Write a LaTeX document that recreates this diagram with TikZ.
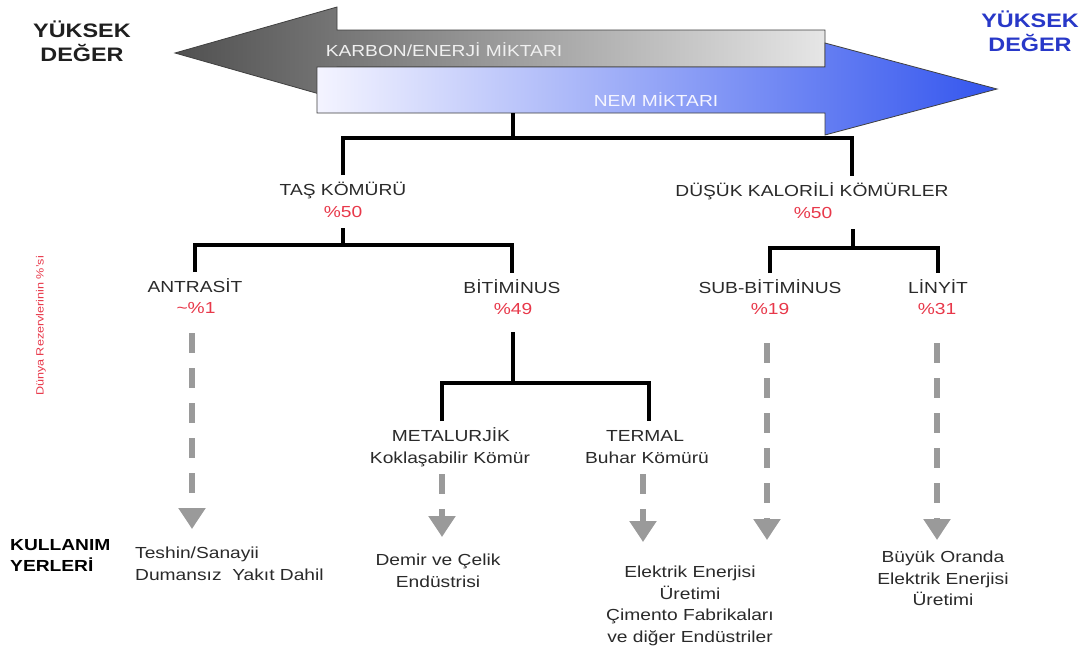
\documentclass[tikz,border=0pt]{standalone}
\usepackage{fontspec}
\setmainfont{Liberation Sans}[FakeStretch=1.2]
\usetikzlibrary{arrows.meta}
\definecolor{pctred}{HTML}{E8384A}
\definecolor{hiblue}{HTML}{2838C8}
\definecolor{dashgray}{HTML}{9A9A9A}
\definecolor{txtgray}{HTML}{2A2A2A}
\definecolor{edgegray}{HTML}{404040}
\definecolor{blueend}{HTML}{3355EE}
\definecolor{bluestart}{HTML}{F4F4FF}
\definecolor{graystart}{HTML}{505050}
\definecolor{grayend}{HTML}{E6E6E6}
\begin{document}
\begin{tikzpicture}[x=1pt,y=-1pt,
  lbl/.style={font=\fontsize{16}{21.5}\selectfont, text=txtgray, inner sep=0pt,
    text height=12pt, text depth=3pt, outer ysep=8pt, anchor=base},
  pct/.style={lbl, text=pctred},
  note/.style={font=\fontsize{16}{21.5}\selectfont, text=txtgray, inner sep=0pt,
    align=center, anchor=north},
  bigword/.style={font=\bfseries\fontsize{19.5}{24}\selectfont, inner sep=0pt,
    align=center, anchor=north},
  treeline/.style={line width=4.5pt, draw=black, line join=miter},
  usearrow/.style={line width=6pt, draw=dashgray, dash pattern=on 20pt off 15pt,
    -{Triangle[width=26pt,length=21pt,fill=dashgray]}},
  bandtext/.style={font=\fontsize{16}{20}\selectfont, inner sep=0pt}
]
\useasboundingbox (0,0) rectangle (1090,648);
\fill[white] (0,0) rectangle (1090,648);

% big arrows
\draw[edgegray, line width=0.8pt, left color=graystart, right color=grayend]
  (175,53) -- (337,7) -- (337,30) -- (825,30) -- (825,67) -- (337,67) -- (337,99) -- cycle;
\node[bandtext, text=white!94!black] (karbon) at (444,50) {KARBON/ENERJİ MİKTARI};
\draw[edgegray, line width=0.8pt, left color=bluestart, right color=blueend]
  (317,67) -- (825,67) -- (825,43) -- (997,89) -- (825,135) -- (825,113) -- (317,113) -- cycle;
\node[bandtext, text=white!96!blue] (nem) at (656,100) {NEM MİKTARI};

\node[bigword, text=black!88] (hvL) at (82,20.5) {YÜKSEK\\DEĞER};
\node[bigword, text=hiblue] (hvR) at (1030,10.5) {YÜKSEK\\DEĞER};

% labels
\node[lbl] (tas) at (343,195) {TAŞ KÖMÜRÜ};
\node[pct] (tasp) at (343,217) {\%50};
\node[lbl] (dus) at (812,196) {DÜŞÜK KALORİLİ KÖMÜRLER};
\node[pct] (dusp) at (813,218) {\%50};
\node[lbl] (ant) at (195,292) {ANTRASİT};
\node[pct] (antp) at (196,313) {\textasciitilde\%1};
\node[lbl] (bit) at (512,293) {BİTİMİNUS};
\node[pct] (bitp) at (513,314) {\%49};
\node[lbl] (sub) at (770,293) {SUB-BİTİMİNUS};
\node[pct] (subp) at (770,314) {\%19};
\node[lbl] (lin) at (938,293) {LİNYİT};
\node[pct] (linp) at (937,314) {\%31};
\node[lbl] (met) at (451,441) {METALURJİK};
\node[lbl] (metk) at (450,463) {Koklaşabilir Kömür};
\node[lbl] (ter) at (645,441) {TERMAL};
\node[lbl] (terk) at (647,463) {Buhar Kömürü};

\node[rotate=90, font=\fontsize{10.5}{12}\selectfont, text=pctred, inner sep=0pt] (dunya) at (41,326) {Dünya Rezervlerinin \%'si};

% tree connectors
\coordinate (root) at (513,113);
\draw[treeline] (root) -- ++(0,25) coordinate (j1);
\draw[treeline] (tas.north) |- (j1) -| ([xshift=40pt]dus.north);
\coordinate (j2) at (343,245);
\draw[treeline] (tasp.south) -- (j2);
\draw[treeline] (ant.north) |- (j2) -| (bit.north);
\coordinate (j3) at (853,248);
\draw[treeline] ([xshift=40pt]dusp.south) -- (j3);
\draw[treeline] (sub.north) |- (j3) -| (lin.north);
\coordinate (j4) at (513,383);
\draw[treeline, shorten <=7pt] (bitp.south) -- (j4);
\draw[treeline] ([xshift=-9pt]met.north) |- (j4) -| ([xshift=4pt]ter.north);

% usage arrows
\coordinate (antu) at (192,529);
\coordinate (metu) at (442,537);
\coordinate (teru) at (643,542);
\coordinate (subu) at (767,540);
\coordinate (linu) at (937,540);
\draw[usearrow, shorten <=9pt] (antu |- antp.south) -- (antu);
\draw[usearrow] (metu |- metk.south) -- (metu);
\draw[usearrow] (teru |- terk.south) -- (teru);
\draw[usearrow, shorten <=18pt] (subu |- subp.south) -- (subu);
\draw[usearrow, shorten <=18pt] (linu |- linp.south) -- (linu);

% usage texts
\node[note, align=left, anchor=north west, font=\bfseries\fontsize{16}{21}\selectfont, text=black] (kul) at (10,539) {KULLANIM\\YERLERİ};
\node[note, align=left, anchor=north west] (u1) at (135,547) {Teshin/Sanayii\\Dumansız\ \ Yakıt Dahil};
\node[note] (u2) at (438,554) {Demir ve Çelik\\Endüstrisi};
\node[note] (u3) at (690,566) {Elektrik Enerjisi\\Üretimi\\Çimento Fabrikaları\\ve diğer Endüstriler};
\node[note] (u4) at (943,551) {Büyük Oranda\\Elektrik Enerjisi\\Üretimi};
\end{tikzpicture}
\end{document}
